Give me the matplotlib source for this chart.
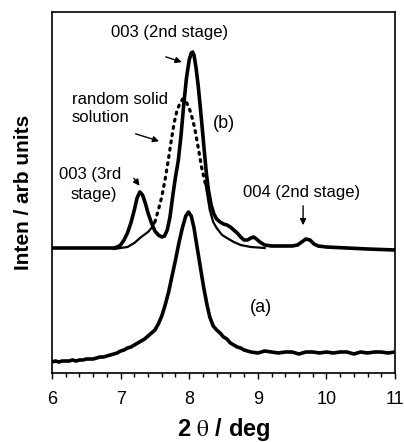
import matplotlib
matplotlib.use("Agg")
import matplotlib.pyplot as plt
from matplotlib.ticker import MultipleLocator

plt.rcParams['font.family'] = ['Liberation Sans', 'DejaVu Sans']
plt.rcParams['mathtext.fontset'] = 'stix'

# (a) pattern
xa = [6.00, 6.05, 6.10, 6.15, 6.20, 6.25, 6.30, 6.35, 6.40, 6.45, 6.50, 6.55, 6.60, 6.65,
      6.70, 6.75, 6.80, 6.85, 6.90, 6.95, 7.00, 7.05, 7.10, 7.15, 7.20, 7.25, 7.30, 7.35,
      7.40, 7.45, 7.50, 7.55, 7.60, 7.65, 7.70, 7.75, 7.80, 7.85, 7.90, 7.95, 7.99, 8.03,
      8.07, 8.11, 8.16, 8.21, 8.26, 8.30, 8.35, 8.40, 8.45, 8.50, 8.55, 8.60, 8.65, 8.70,
      8.75, 8.80, 8.85, 8.90, 9.00, 9.10, 9.20, 9.30, 9.40, 9.50, 9.60, 9.70, 9.80, 9.90,
      10.0, 10.1, 10.2, 10.3, 10.4, 10.5, 10.6, 10.7, 10.8, 10.9, 11.0]
ya = [11, 12, 11, 12, 12, 12, 13, 12, 13, 13, 14, 14, 14, 15,
      16, 16, 17, 18, 19, 20, 22, 23, 25, 26, 28, 30, 32, 34,
      37, 40, 43, 49, 57, 68, 81, 97, 113, 130, 145, 157, 161, 157,
      145, 128, 107, 86, 68, 56, 47, 43, 40, 36, 34, 30, 28, 26,
      25, 23, 22, 21, 20, 22, 21, 20, 21, 21, 19, 21, 21, 20,
      21, 20, 21, 21, 19, 21, 20, 21, 21, 20, 21]

# (b) staged pattern (solid)
xb = [6.0, 6.5, 6.9, 6.95, 7.0, 7.05, 7.1, 7.15, 7.2, 7.24, 7.28, 7.32, 7.36, 7.40,
      7.45, 7.50, 7.55, 7.60, 7.64, 7.68, 7.72, 7.76, 7.80, 7.84, 7.88, 7.92, 7.96,
      8.00, 8.03, 8.05, 8.07, 8.10, 8.13, 8.16, 8.19, 8.22, 8.25, 8.28, 8.32, 8.36,
      8.40, 8.45, 8.50, 8.55, 8.60, 8.65, 8.70, 8.75, 8.80, 8.85, 8.90, 8.94, 8.98,
      9.03, 9.10, 9.2, 9.3, 9.4, 9.5, 9.58, 9.64, 9.70, 9.76, 9.82, 9.88, 10.0, 10.3,
      10.6, 11.0]
yb = [125, 125, 125, 126, 128, 133, 140, 150, 163, 175, 181, 178, 170, 160,
      150, 142, 138, 136, 137, 143, 156, 177, 196, 212, 237, 268, 295,
      313, 320, 321, 318, 305, 288, 267, 245, 222, 200, 183, 168, 159,
      154, 151, 149, 148, 146, 143, 140, 136, 133, 133, 135, 136, 134,
      131, 128, 127, 127, 127, 127, 128, 131, 134, 133, 129, 127, 126, 125,
      124, 123]

# (b) random solid solution
xr = [6.9, 7.0, 7.1, 7.2, 7.3, 7.4, 7.45, 7.5, 7.55, 7.60, 7.65, 7.70, 7.74, 7.78,
      7.82, 7.86, 7.905, 7.95, 8.00, 8.04, 8.08, 8.13, 8.18, 8.24, 8.30, 8.35, 8.40,
      8.48, 8.55, 8.65, 8.75, 8.9, 9.1]
yr = [124, 125, 126, 130, 136, 141, 145, 151, 163, 176, 194, 215, 233, 250,
      262, 269, 274, 272, 265, 256, 245, 226, 206, 188, 163, 151, 145,
      138, 135, 131, 128, 126, 125]

xticks = [6, 7, 8, 9, 10, 11]

fig = plt.figure(figsize=(4.04, 4.42), dpi=100)
ax = fig.add_axes([52/404, 1 - 373/442, 343/404, 361/442])

ax.plot(xa, ya, color='black', lw=2.6, solid_joinstyle='round')
ax.plot(xb, yb, color='black', lw=2.6, solid_joinstyle='round')

i0 = xr.index(7.5)
i1 = xr.index(8.24)
ax.plot(xr[:i0 + 1], yr[:i0 + 1], color='black', lw=1.6)
ax.plot(xr[i0:i1 + 1], yr[i0:i1 + 1], color='black', lw=2.3,
        linestyle=(0, (0.6, 1.7)), dash_capstyle='round')
ax.plot(xr[i1:], yr[i1:], color='black', lw=1.6)

ax.set_xlim(6, 11)
ax.set_ylim(0, 361)
ax.set_yticks([])
ax.set_xticks(xticks)
ax.set_xticklabels([str(t) for t in xticks])
ax.xaxis.set_minor_locator(MultipleLocator(0.2))
ax.tick_params(axis='x', which='major', direction='out', length=4, width=1, labelsize=13, pad=9)
ax.tick_params(axis='x', which='minor', direction='out', length=3, width=1)
for s in ax.spines.values():
    s.set_linewidth(1.2)

ax.set_xlabel(r'2 $\mathrm{\theta}$ / deg', fontsize=17, fontweight='bold', labelpad=6)
ax.set_ylabel('Inten / arb units', fontsize=15, fontweight='bold', labelpad=14)

fs = 12
ax.text(7.72, 340, '003 (2nd stage)', fontsize=fs, ha='center', va='center')
ax.annotate('', xy=(7.93, 310), xytext=(7.62, 317),
            arrowprops=dict(arrowstyle='-|>', color='black', lw=1, mutation_scale=9))
ax.text(6.29, 273, 'random solid', fontsize=fs, ha='left', va='center')
ax.text(6.29, 255, 'solution', fontsize=fs, ha='left', va='center')
ax.annotate('', xy=(7.60, 231), xytext=(7.18, 240),
            arrowprops=dict(arrowstyle='-|>', color='black', lw=1, mutation_scale=9))
ax.text(8.51, 250, '(b)', fontsize=fs + 1, ha='center', va='center')
ax.text(6.56, 198, '003 (3rd', fontsize=fs, ha='center', va='center')
ax.text(6.61, 178, 'stage)', fontsize=fs, ha='center', va='center')
ax.annotate('', xy=(7.30, 185), xytext=(7.17, 197),
            arrowprops=dict(arrowstyle='-|>', color='black', lw=1, mutation_scale=9))
ax.text(9.64, 181, '004 (2nd stage)', fontsize=fs, ha='center', va='center')
ax.annotate('', xy=(9.66, 145), xytext=(9.66, 170),
            arrowprops=dict(arrowstyle='-|>', color='black', lw=1, mutation_scale=9))
ax.text(9.05, 66, '(a)', fontsize=fs + 1, ha='center', va='center')

fig.savefig('out.png', dpi=100)
